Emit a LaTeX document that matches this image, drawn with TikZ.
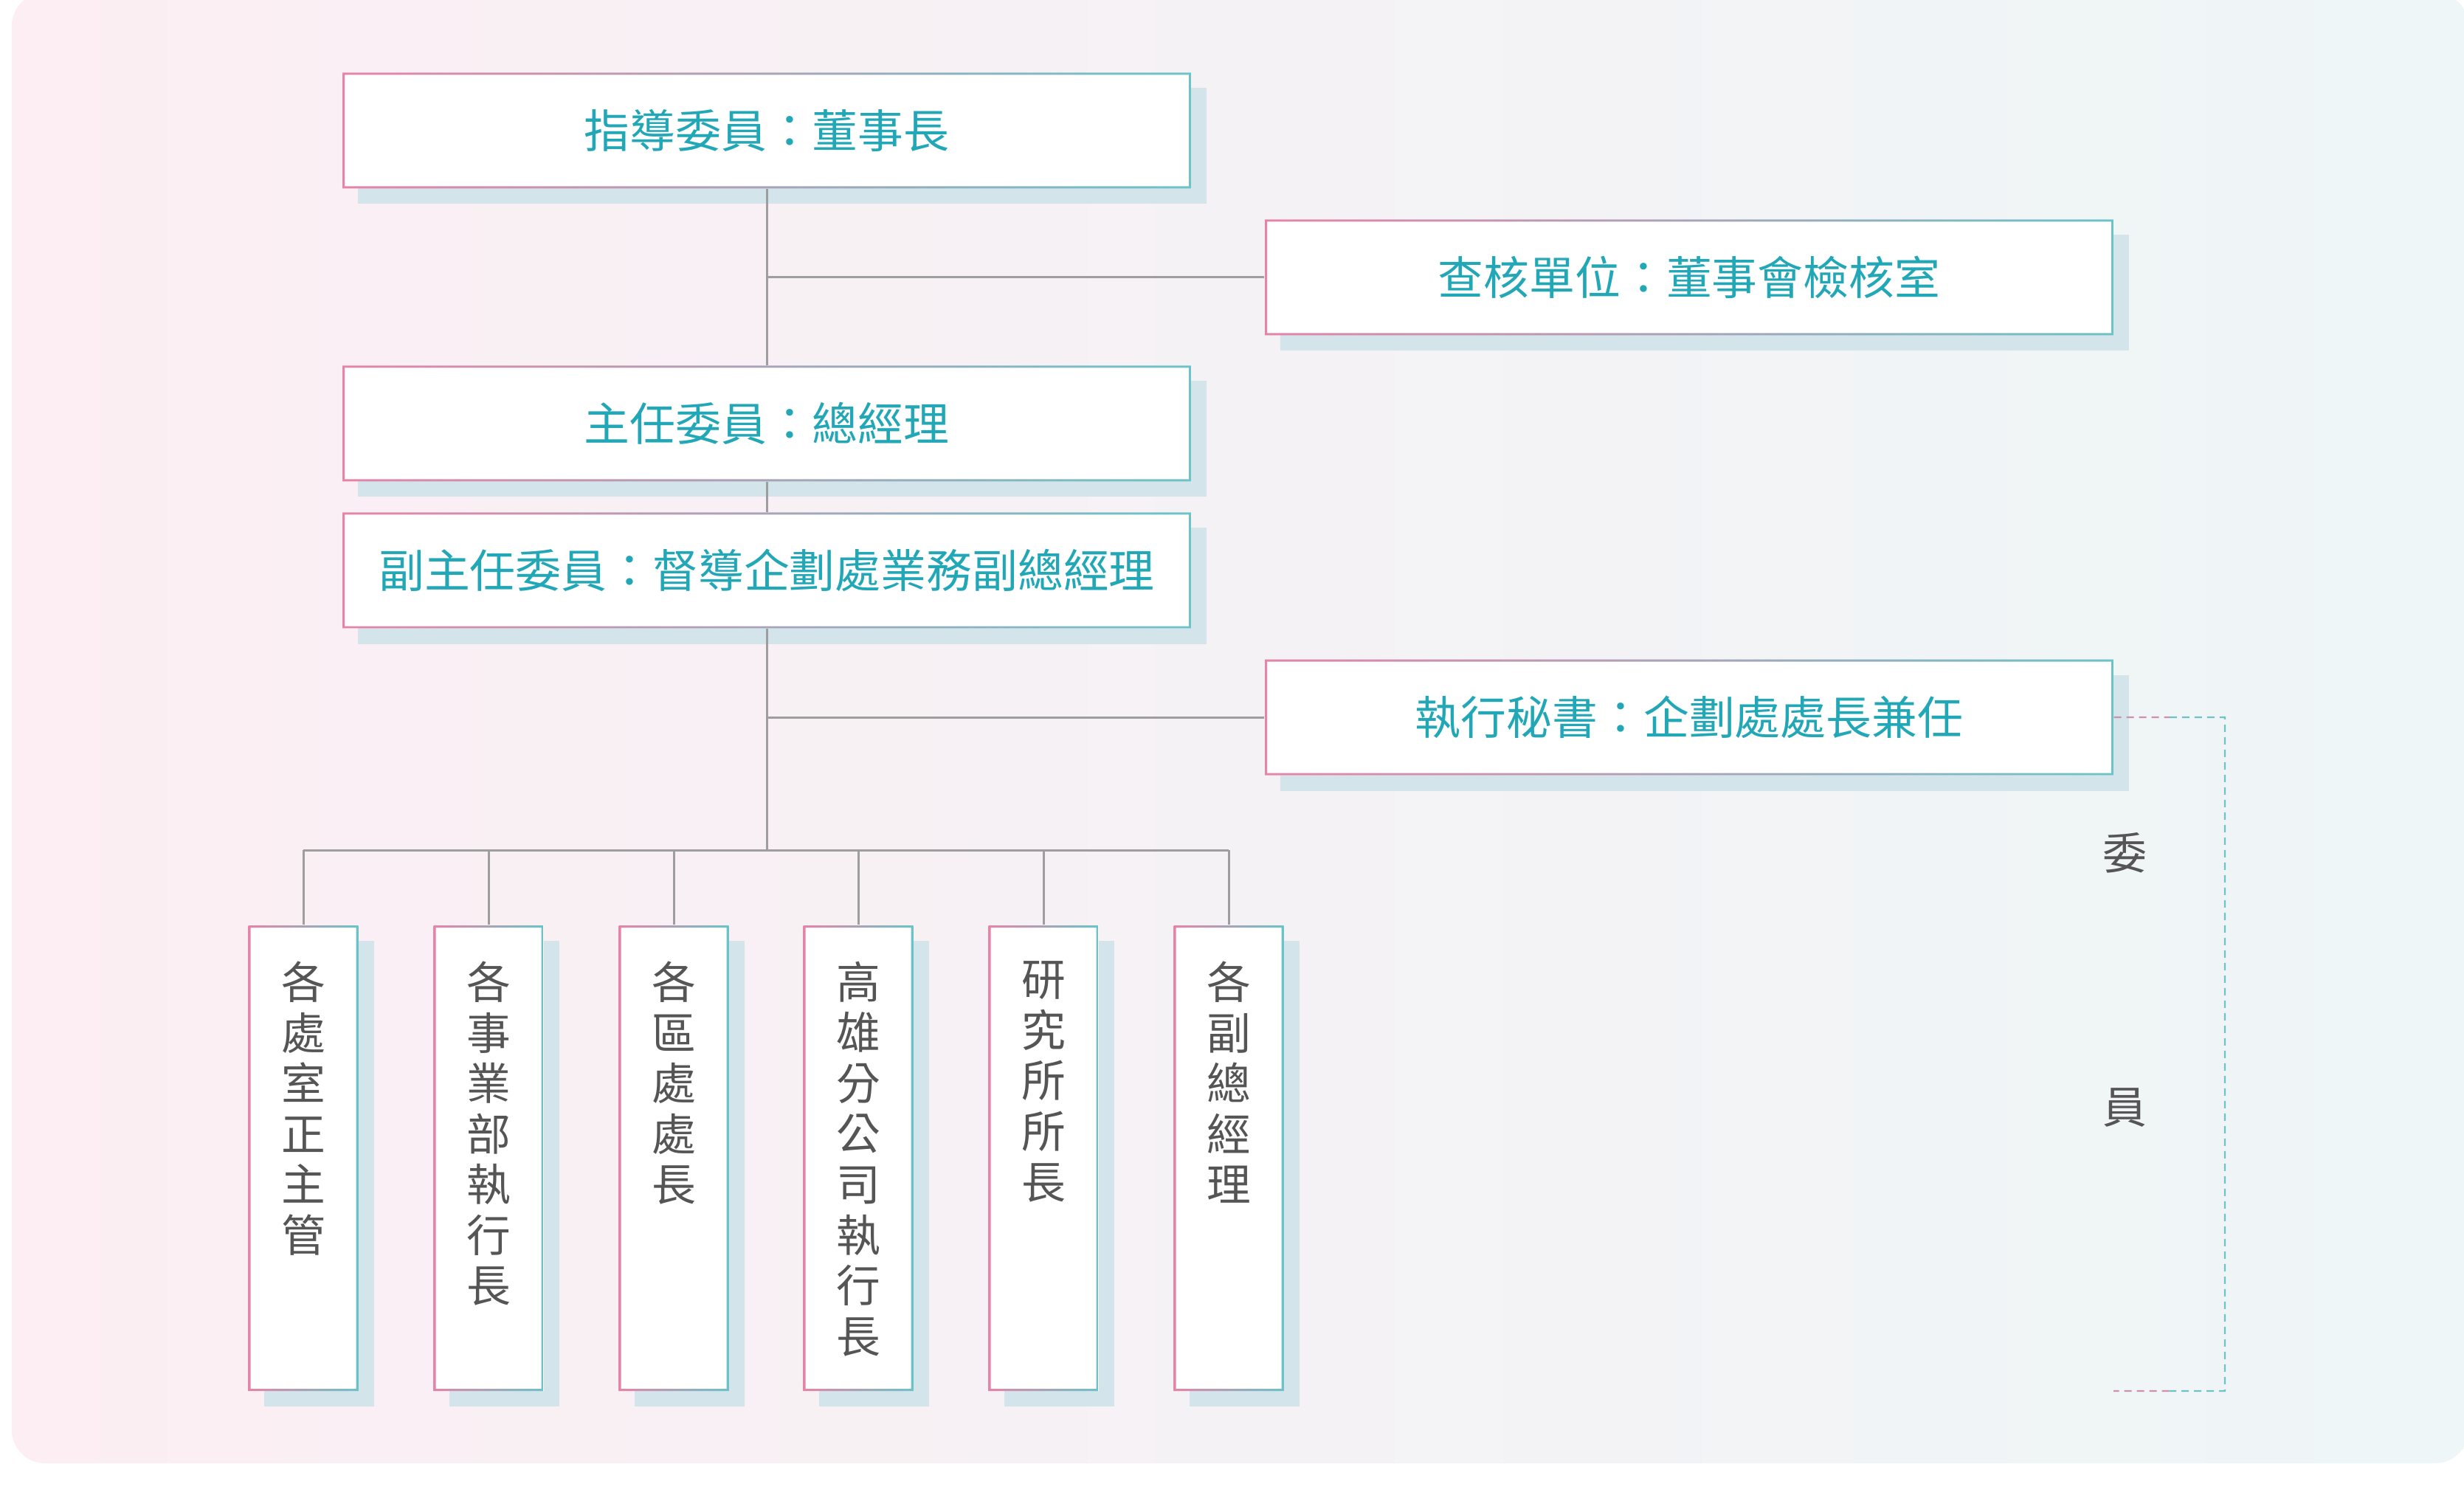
\documentclass[tikz,border=0pt]{standalone}
\usepackage{fontspec}
\setmainfont{Noto Sans CJK TC}
\usetikzlibrary{shadows,calc}
\definecolor{bgpink}{HTML}{FCEEF3}
\definecolor{bgmid}{HTML}{F7F6F9}
\definecolor{bgteal}{HTML}{EEF6F7}
\definecolor{bpink}{HTML}{E584A8}
\definecolor{bteal}{HTML}{6CC3C8}
\definecolor{boxshade}{HTML}{D3E4EA}
\definecolor{tealtext}{HTML}{22A7B7}
\definecolor{graytext}{HTML}{555555}
\definecolor{wire}{HTML}{9E9E9E}
\newcommand{\vlabel}[1]{\parbox[c][5.33cm][t]{0.7cm}{\centering #1}}

\tikzset{
	orgbox/.style={fill=white,inner sep=0pt,
		drop shadow={shadow xshift=0.21cm,shadow yshift=-0.21cm,fill=boxshade,opacity=1},
		path picture={\shade[left color=bpink,right color=bteal,even odd rule]
			(path picture bounding box.south west) rectangle (path picture bounding box.north east)
			([shift={(0.03cm,0.03cm)}]path picture bounding box.south west) rectangle ([shift={(-0.03cm,-0.03cm)}]path picture bounding box.north east);}},
	headbox/.style={orgbox,minimum width=11.5cm,minimum height=1.57cm,
		text=tealtext,font=\fontsize{17.6pt}{21pt}\selectfont},
	unitbox/.style={orgbox,minimum width=1.49cm,minimum height=6.31cm,
		text=graytext,font=\fontsize{17pt}{19.5pt}\selectfont},
	wireline/.style={draw=wire,line width=0.03cm},
	bracket/.style={line width=0.022cm,dash pattern=on 0.1cm off 0.07cm},
}

\begin{document}
	\begin{tikzpicture}
		\useasboundingbox (0,0) rectangle (33.39,20.48);
		%background
		\shade[left color=bgpink,middle color=bgmid,right color=bgteal,rounded corners=0.45cm] (0.16,0.65) rectangle (33.45,20.58);
		%head boxes
		\node[headbox] (chair) at (10.39,18.71) {指導委員：董事長};
		\node[headbox] (audit) at (22.89,16.72) {查核單位：董事會檢核室};
		\node[headbox] (gm) at (10.39,14.74) {主任委員：總經理};
		\node[headbox] (deputy) at (10.39,12.75) {副主任委員：督導企劃處業務副總經理};
		\node[headbox] (secretary) at (22.89,10.76) {執行秘書：企劃處處長兼任};
		%unit boxes
		\node[unitbox] (office) at (4.11,4.785) {\vlabel{各\\處\\室\\正\\主\\管}};
		\node[unitbox] (business) at (6.62,4.785) {\vlabel{各\\事\\業\\部\\執\\行\\長}};
		\node[unitbox] (region) at (9.13,4.785) {\vlabel{各\\區\\處\\處\\長}};
		\node[unitbox] (branch) at (11.63,4.785) {\vlabel{高\\雄\\分\\公\\司\\執\\行\\長}};
		\node[unitbox] (institute) at (14.14,4.785) {\vlabel{研\\究\\所\\所\\長}};
		\node[unitbox] (vicegm) at (16.65,4.785) {\vlabel{各\\副\\總\\經\\理}};
		\coordinate (bus) at (10.39,8.96);
		%trunk
		\draw[wireline] (chair.south) -- (gm.north);
		\draw[wireline] (gm.south) -- (deputy.north);
		\draw[wireline] (deputy.south) -- (bus);
		\draw[wireline] (chair.south |- audit.west) -- (audit.west);
		\draw[wireline] (deputy.south |- secretary.west) -- (secretary.west);
		%bus
		\draw[wireline] (office.north |- bus) -- (vicegm.north |- bus);
		\draw[wireline] (office.north) -- (office.north |- bus);
		\draw[wireline] (business.north) -- (business.north |- bus);
		\draw[wireline] (region.north) -- (region.north |- bus);
		\draw[wireline] (branch.north) -- (branch.north |- bus);
		\draw[wireline] (institute.north) -- (institute.north |- bus);
		\draw[wireline] (vicegm.north) -- (vicegm.north |- bus);
		%members bracket
		\coordinate (brtop) at (30.15,10.76);
		\coordinate (brbottom) at (30.15,1.63);
		\coordinate (brend) at (28.64,1.63);
		\draw[bracket,draw=bpink!80!bteal] (secretary.east) -- ($(secretary.east)!0.5!(brtop)$);
		\draw[bracket,draw=bteal] ($(secretary.east)!0.5!(brtop)$) -- (brtop) -- (brbottom) -- ($(brend)!0.5!(brbottom)$);
		\draw[bracket,draw=bpink!80!bteal] ($(brend)!0.5!(brbottom)$) -- (brend);
		\node[text=graytext,font=\fontsize{17pt}{19.5pt}\selectfont] (wei) at (28.79,8.92) {委};
		\node[text=graytext,font=\fontsize{17pt}{19.5pt}\selectfont] (yuan) at (28.79,5.47) {員};
	\end{tikzpicture}
\end{document}
